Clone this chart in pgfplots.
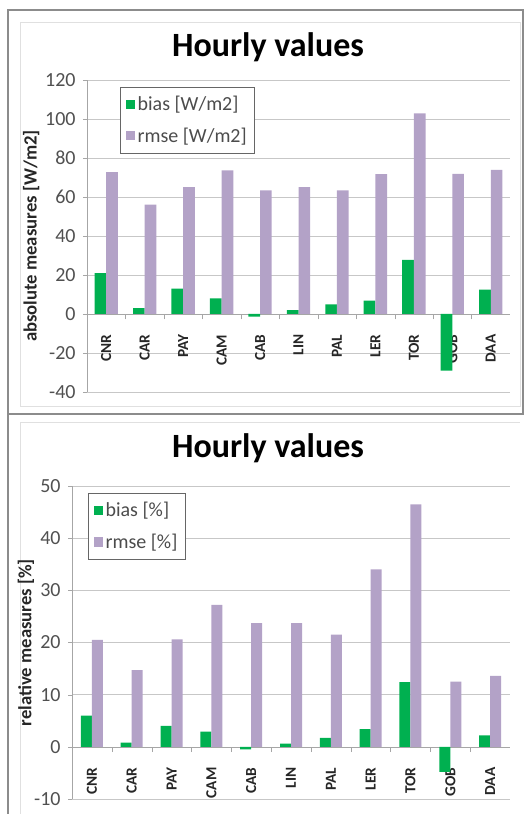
\documentclass[border=0pt]{standalone}
\usepackage{fontspec}
\setmainfont{Carlito}
\usepackage{pgfplots}
\pgfplotsset{compat=1.18}
\definecolor{cgreen}{RGB}{0,176,80}
\definecolor{cpurple}{RGB}{179,162,199}
\definecolor{ctick}{RGB}{80,80,80}
\pgfplotsset{
  common/.style={
    anchor=south west, scale only axis,
    xmin=-0.5, xmax=10.5,
    axis y line*=left, axis x line*=middle,
    axis line style={draw=black!35},
    xtick={0,...,10},
    xticklabels={CNR,CAR,PAY,CAM,CAB,LIN,PAL,LER,TOR,GOB,DAA},
    minor xtick={0.5,1.5,...,9.5},
    major x tick style={draw=none},
    minor x tick style={draw=black!35},
    minor tick length=4pt,
    tick align=outside,
    major tick length=3pt,
    y tick style={draw=black!35},
    ymajorgrids, grid style={draw=black!22},
    /pgf/number format/assume math mode=true,
    xticklabel style={yshift=-9pt, rotate=90, anchor=east, font=\fontsize{11.5}{13}\selectfont\bfseries, text=black!85},
    yticklabel={\fontsize{15}{18}\selectfont\pgfmathprintnumber{\tick}},
    yticklabel style={text=ctick, xshift=-2pt},
    ybar=0pt,
    legend cell align=left,
    legend style={draw=black!60, font=\fontsize{15}{17}\selectfont, text=black!70, inner xsep=4pt, inner ysep=5pt, row sep=7pt},
    legend image code/.code={\fill[##1,draw=none] (0pt,-3.5pt) rectangle (7pt,3.5pt);},
  }
}
\begin{document}
\begin{tikzpicture}
\useasboundingbox (0,0) rectangle (397.5pt,610.5pt);
% frames
\draw[black!45, line width=0.9pt] (6pt,300pt) rectangle (392.25pt,603pt);
\draw[black!45, line width=0.9pt] (6pt,0pt) -- (6pt,300pt);
\draw[black!12] (15pt,306pt) rectangle (390pt,594pt);
\draw[black!12] (15pt,-2pt) -- (15pt,294pt) -- (390pt,294pt);

\begin{axis}[common,
  at={(65.25pt,316.5pt)},
  width=317.25pt, height=234pt,
  ymin=-40, ymax=120, ytick={-40,-20,...,120},
  bar width=8.75pt,
  ylabel={absolute measures [W/m2]},
  every axis y label/.style={at={(axis description cs:-0.132,0.5)}, rotate=90, anchor=center, font=\fontsize{14}{16}\selectfont\bfseries, text=black!85},
  legend style={at={(0.078,0.978)}, anchor=north west},
]
\addplot[fill=cgreen, draw=none] coordinates {(0,21) (1,3) (2,13) (3,8) (4,-1.4) (5,2) (6,4.9) (7,6.9) (8,27.8) (9,-29) (10,12.5)};
\addplot[fill=cpurple, draw=none] coordinates {(0,72.7) (1,56.1) (2,65) (3,73.6) (4,63.4) (5,65) (6,63.4) (7,71.7) (8,102.9) (9,71.9) (10,73.9)};
\legend{bias [W/m2], rmse [W/m2]}
\end{axis}
\node[font=\fontsize{25.5}{30}\selectfont\bfseries] at (201pt,575.25pt) {Hourly values};

\begin{axis}[common,
  at={(54pt,11.25pt)},
  width=328.5pt, height=234.75pt,
  ymin=-10, ymax=50, ytick={-10,0,...,50},
  bar width=8.25pt,
  ylabel={relative measures [\%]},
  every axis y label/.style={at={(axis description cs:-0.105,0.5)}, rotate=90, anchor=center, font=\fontsize{14}{16}\selectfont\bfseries, text=black!85},
  legend style={at={(0.0365,0.978)}, anchor=north west},
]
\addplot[fill=cgreen, draw=none] coordinates {(0,6) (1,0.8) (2,4) (3,2.9) (4,-0.5) (5,0.6) (6,1.7) (7,3.4) (8,12.4) (9,-4.8) (10,2.2)};
\addplot[fill=cpurple, draw=none] coordinates {(0,20.5) (1,14.7) (2,20.6) (3,27.2) (4,23.7) (5,23.7) (6,21.5) (7,34) (8,46.5) (9,12.5) (10,13.6)};
\legend{bias [\%], rmse [\%]}
\end{axis}
\node[font=\fontsize{25.5}{30}\selectfont\bfseries] at (201pt,274.5pt) {Hourly values};
\end{tikzpicture}
\end{document}
